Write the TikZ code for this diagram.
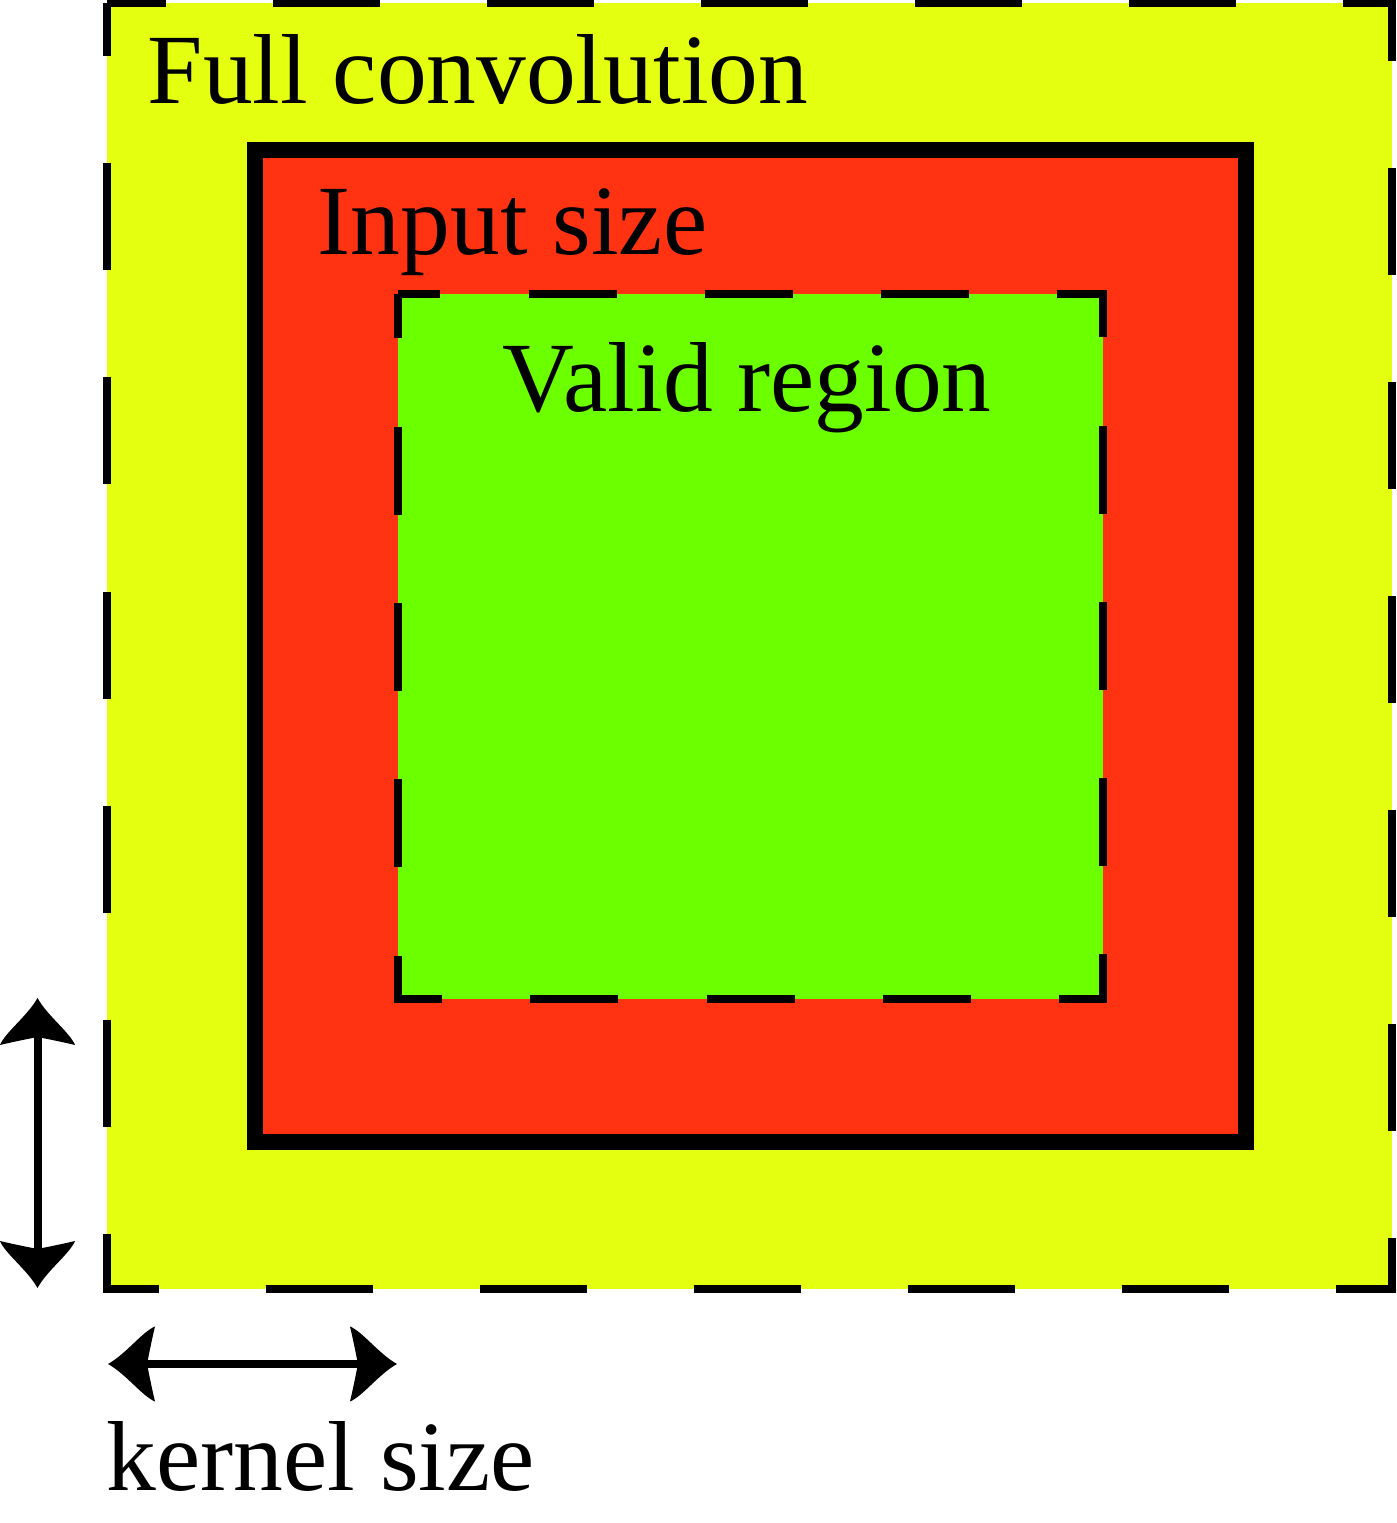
\documentclass[tikz,border=0pt]{standalone}
\usepackage{fontspec}
\setmainfont{Liberation Serif}
\usetikzlibrary{arrows.meta}
\definecolor{fullyel}{RGB}{229,255,17}
\definecolor{inred}{RGB}{255,51,17}
\definecolor{validgrn}{RGB}{108,255,0}
\pgfdeclarearrow{
  name=kerneltip,
  parameters={\the\pgfarrowlength},
  setup code={
    \pgfarrowssettipend{0pt}
    \pgfarrowssetbackend{-4.7mm}
    \pgfarrowssetlineend{-3.5mm}
    \pgfarrowshullpoint{0pt}{0pt}
    \pgfarrowshullpoint{-4.7mm}{3.75mm}
    \pgfarrowshullpoint{-4.7mm}{-3.75mm}
    \pgfarrowssavethe\pgfarrowlength
  },
  drawing code={
    \pgfpathmoveto{\pgfpoint{0pt}{0pt}}
    \pgfpathcurveto{\pgfpoint{-1.8mm}{1.0mm}}{\pgfpoint{-3.4mm}{3.2mm}}{\pgfpoint{-4.7mm}{3.75mm}}
    \pgfpathcurveto{\pgfpoint{-4.4mm}{2.5mm}}{\pgfpoint{-4.1mm}{1.0mm}}{\pgfpoint{-3.9mm}{0pt}}
    \pgfpathcurveto{\pgfpoint{-4.1mm}{-1.0mm}}{\pgfpoint{-4.4mm}{-2.5mm}}{\pgfpoint{-4.7mm}{-3.75mm}}
    \pgfpathcurveto{\pgfpoint{-3.4mm}{-3.2mm}}{\pgfpoint{-1.8mm}{-1.0mm}}{\pgfpoint{0pt}{0pt}}
    \pgfpathclose
    \pgfusepathqfill
  },
  defaults={length=4.7mm}
}

\begin{document}
\begin{tikzpicture}[lbl/.style={inner sep=0,anchor=base west,font=\fontsize{28.3}{34}\selectfont},
  sizearrow/.style={line width=0.08cm,arrows={kerneltip[]-kerneltip[]}}]
\useasboundingbox (0,0) rectangle (13.97,15.23);
% full convolution
\draw[fill=fullyel,line width=0.08cm,dash pattern=on 1.07cm off 1.07cm,dash phase=0.535cm] (1.07,15.20) rectangle (13.92,2.34);
% input
\draw[fill=inred,line width=0.16cm] (2.545,13.725) rectangle (12.46,3.81);
% valid
\draw[fill=validgrn,line width=0.08cm,dash pattern=on 0.88cm off 0.8825cm,dash phase=0.44cm] (3.975,12.285) rectangle (11.025,5.24);
\node[lbl] (full) at (1.47,14.19) {Full convolution};
\node[lbl] (input) at (3.17,12.68) {Input size};
\node[lbl] (valid) at (5.02,11.11) {Valid region};
\node[lbl] (kernel) at (1.06,0.33) {kernel size};
% kernel size arrows
\coordinate (vtop) at (0.375,5.25);
\coordinate (vbot) at (0.375,2.35);
\coordinate (hleft) at (1.08,1.59);
\coordinate (hright) at (3.97,1.59);
\draw[sizearrow] (vtop)--(vbot);
\draw[sizearrow] (hleft)--(hright);
\end{tikzpicture}
\end{document}
